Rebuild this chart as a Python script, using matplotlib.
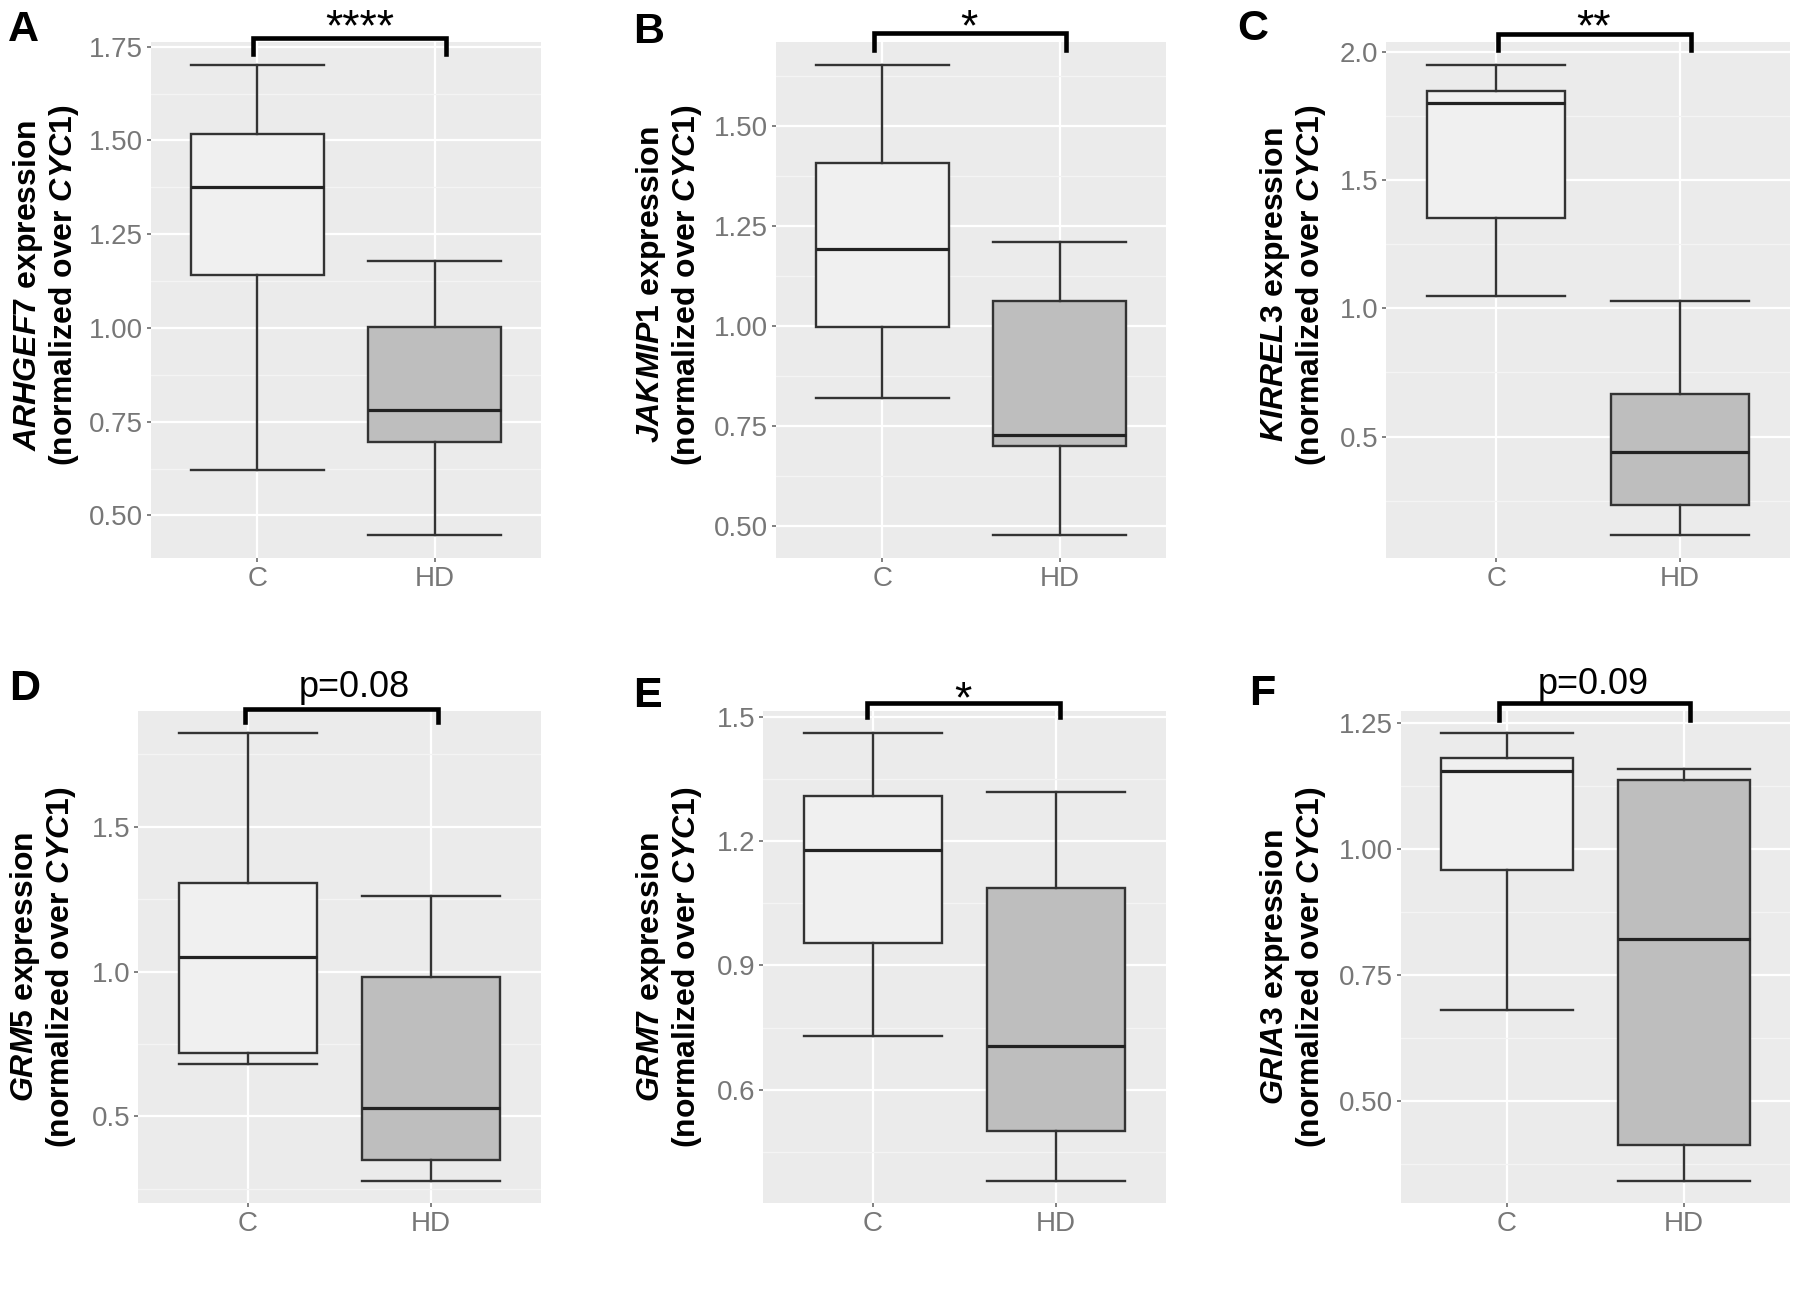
import matplotlib
matplotlib.use("Agg")
import matplotlib.pyplot as plt
from matplotlib.ticker import MultipleLocator, AutoMinorLocator, FormatStrFormatter

plt.rcParams['font.family'] = ['Liberation Sans', 'DejaVu Sans']
plt.rcParams['mathtext.fontset'] = 'custom'
plt.rcParams['mathtext.it'] = 'Liberation Sans:bold:italic'
plt.rcParams['mathtext.rm'] = 'Liberation Sans:bold'

# data: [whisker low, Q1, median, Q3, whisker high]
groups = ["C", "HD"]
genes = ["ARHGEF7", "JAKMIP1", "KIRREL3", "GRM5", "GRM7", "GRIA3"]
letters = ["A", "B", "C", "D", "E", "F"]
signif = ["****", "*", "**", "p=0.08", "*", "p=0.09"]
tick_step = [0.25, 0.25, 0.5, 0.5, 0.3, 0.25]
decimals = [2, 2, 1, 1, 1, 2]

arhgef7_c = [0.620, 1.142, 1.375, 1.516, 1.700]
arhgef7_hd = [0.449, 0.697, 0.780, 1.002, 1.178]
jakmip1_c = [0.819, 0.996, 1.191, 1.408, 1.651]
jakmip1_hd = [0.478, 0.700, 0.726, 1.062, 1.210]
kirrel3_c = [1.048, 1.351, 1.798, 1.847, 1.946]
kirrel3_hd = [0.118, 0.232, 0.438, 0.664, 1.030]
grm5_c = [0.681, 0.720, 1.050, 1.305, 1.823]
grm5_hd = [0.278, 0.348, 0.530, 0.982, 1.261]
grm7_c = [0.730, 0.955, 1.179, 1.308, 1.460]
grm7_hd = [0.381, 0.501, 0.706, 1.088, 1.319]
gria3_c = [0.680, 0.958, 1.155, 1.182, 1.230]
gria3_hd = [0.341, 0.411, 0.821, 1.138, 1.160]

values = [(arhgef7_c, arhgef7_hd), (jakmip1_c, jakmip1_hd), (kirrel3_c, kirrel3_hd),
          (grm5_c, grm5_hd), (grm7_c, grm7_hd), (gria3_c, gria3_hd)]

# layout in pixels: panel left, right, top, bottom
W, H = 1800, 1293
panels = [(151, 541, 42, 558), (776, 1166, 42, 558), (1386, 1790, 42, 558),
          (138, 541, 711, 1203), (763, 1166, 711, 1203), (1401, 1790, 711, 1203)]
letter_pos = [(8, 10), (633, 12), (1237, 9), (9, 669), (633, 676), (1249, 674)]
ylabel_pos = [(46, 285), (669, 285), (1293, 285), (43, 967), (669, 967), (1293, 967)]
# bracket: x0, x1 (data), top, leg end (axes fraction), text x (data), text offset (px)
brackets = [(0.974, 2.064, 1.008, 0.977, 1.58, -2),
            (0.953, 2.036, 1.017, 0.985, 1.49, -7),
            (1.010, 2.060, 1.015, 0.985, 1.53, -6),
            (0.983, 2.040, 1.004, 0.977, 1.58, 12),
            (0.969, 2.020, 1.016, 0.988, 1.49, -9),
            (0.957, 2.035, 1.016, 0.981, 1.49, 9)]

fills = ["#F0F0F0", "#BEBEBE"]
edge = "#333333"
tick_col = "#777777"

fig = plt.figure(figsize=(W / 100, H / 100), dpi=100)

for i in range(6):
    l, r, t, b = panels[i]
    ax = fig.add_axes([l / W, 1 - b / H, (r - l) / W, (b - t) / H])
    ax.set_facecolor("#EBEBEB")
    for s in ax.spines.values():
        s.set_visible(False)

    stats = []
    for k, v in enumerate(values[i]):
        stats.append({'whislo': v[0], 'q1': v[1], 'med': v[2], 'q3': v[3],
                      'whishi': v[4], 'fliers': [], 'label': groups[k]})
    bp = ax.bxp(stats, positions=[1, 2], widths=0.75, capwidths=0.75,
                patch_artist=True, showfliers=False,
                boxprops=dict(edgecolor=edge, linewidth=1.7),
                medianprops=dict(color="#222222", linewidth=2.3),
                whiskerprops=dict(color=edge, linewidth=1.7),
                capprops=dict(color=edge, linewidth=1.7), zorder=3)
    for patch, c in zip(bp['boxes'], fills):
        patch.set_facecolor(c)

    lo = min(values[i][0][0], values[i][1][0])
    hi = max(values[i][0][4], values[i][1][4])
    pad = (hi - lo) * 0.05
    ax.set_ylim(lo - pad, hi + pad)
    ax.set_xlim(0.4, 2.6)

    ax.yaxis.set_major_locator(MultipleLocator(tick_step[i]))
    ax.yaxis.set_minor_locator(AutoMinorLocator(2))
    ax.yaxis.set_major_formatter(FormatStrFormatter('%.' + str(decimals[i]) + 'f'))
    ax.grid(which='major', color='white', linewidth=1.6, zorder=0)
    ax.grid(which='minor', axis='y', color='#F4F4F4', linewidth=0.9, zorder=0)
    ax.set_axisbelow(True)
    ax.tick_params(which='major', length=3.2, width=1.3, color=tick_col,
                   labelcolor=tick_col, labelsize=20, pad=2.5)
    ax.tick_params(which='minor', length=0)

    x0, x1, yt, yl, tx, dy = brackets[i]
    tr = ax.get_xaxis_transform()
    ax.plot([x0, x0, x1, x1], [yl, yt, yt, yl], color='black', linewidth=3.3,
            transform=tr, clip_on=False, solid_joinstyle='miter', zorder=5)
    fs = 32 if signif[i].startswith('*') else 26
    ax.annotate(signif[i], xy=(tx, yt), xycoords=tr, xytext=(0, dy),
                textcoords='offset pixels', ha='center', va='baseline',
                fontsize=fs, color='black', annotation_clip=False)

    lx, ly = letter_pos[i]
    fig.text(lx / W, 1 - ly / H, letters[i], fontsize=31, fontweight='bold',
             ha='left', va='top')
    gx, gy = ylabel_pos[i]
    lab = r"$\it{" + genes[i] + "}$ expression\n(normalized over $\it{CYC1}$)"
    fig.text(gx / W, 1 - gy / H, lab, rotation=90, ha='center', va='center',
             multialignment='center', fontsize=23, fontweight='bold',
             linespacing=1.05)

plt.savefig("out.png", dpi=100)
